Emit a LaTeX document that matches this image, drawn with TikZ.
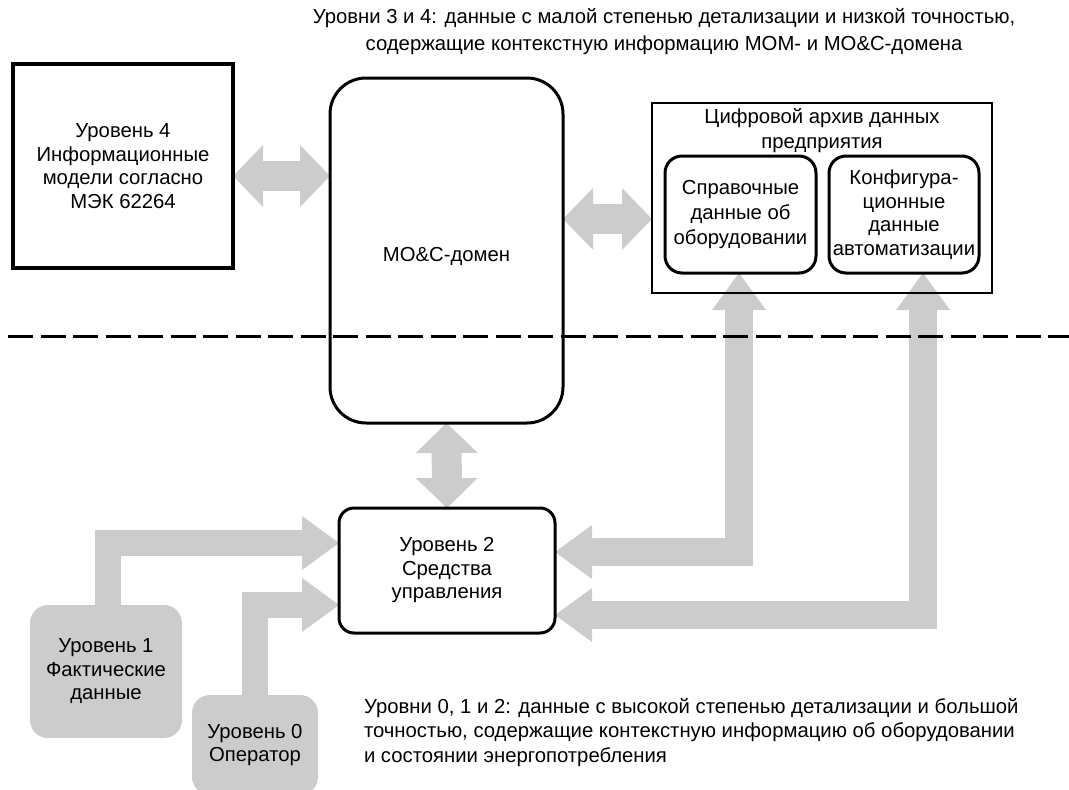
\documentclass[tikz,border=0pt]{standalone}
\usepackage{fontspec}
\setmainfont{Liberation Sans}
\usetikzlibrary{arrows.meta}
\pgfdeclarelayer{background}
\pgfsetlayers{background,main}
\definecolor{flowgray}{RGB}{204,204,204}
\newcommand{\diagfont}{\fontsize{20.3}{23.5}\selectfont}
\begin{document}
\begin{tikzpicture}[x=1pt,y=-1pt,
  every node/.style={font=\diagfont, align=center, inner sep=0pt, outer sep=0pt},
  sqbox/.style={draw=black, line width=3pt},
  rbox/.style={draw=black, line width=3pt, rounded corners=#1},
  greybox/.style={fill=flowgray, rounded corners=18pt},
  flow/.style={draw=flowgray, line width=#1, line join=miter},
  bigtips/.style={>={Triangle[width=62pt,length=30pt,line width=0pt]}},
  intip/.style={>={Triangle[width=54pt,length=37pt,line width=0pt]}},
  dashline/.style={draw=black, line width=3pt, dash pattern=on 25pt off 7.5pt}
]
\useasboundingbox (0,0) rectangle (1069,790);
\clip (0,0) rectangle (1069,790);

% texts
\node[font=\fontsize{20.3}{27}\selectfont] (toptext) at (664,31.5)
  {Уровни 3 и 4: данные с малой степенью детализации и низкой точностью,\\содержащие контекстную информацию МОМ- и МО\&С-домена};
\node[anchor=west, align=left, font=\fontsize{20.3}{24.5}\selectfont] (bottomtext) at (364,732.5)
  {Уровни 0, 1 и 2: данные с высокой степенью детализации и большой\\точностью, содержащие контекстную информацию об оборудовании\\и состоянии энергопотребления};

% boxes
\node[sqbox, line width=3.4pt, minimum width=220pt, minimum height=204pt] (lvl4) at (123,166)
  {Уровень 4\\Информационные\\модели согласно\\МЭК 62264};
\node[rbox=36pt, minimum width=233pt, minimum height=345pt] (moc) at (446.5,250.5) {};
\node (moctext) at (446.5,256) {МО\&С-домен};
\node[sqbox, line width=2.6pt, minimum width=340pt, minimum height=190pt] (archive) at (822,198) {};
\node[font=\fontsize{20.3}{25}\selectfont] (archtitle) at (822,130.5) {Цифровой архив данных\\предприятия};
\node[rbox=17pt, minimum width=151pt, minimum height=117pt, font=\fontsize{20.3}{25}\selectfont] (inner1) at (740.5,214.5)
  {Справочные\\данные об\\оборудовании};
\node[rbox=17pt, minimum width=150pt, minimum height=117pt] (inner2) at (904,214.5)
  {Конфигура-\\ционные\\данные\\автоматизации};
\node[rbox=15pt, minimum width=216pt, minimum height=125pt] (l2) at (447,570.5)
  {Уровень 2\\Средства\\управления};
\node[greybox, minimum width=152pt, minimum height=133pt] (l1) at (106,671.5)
  {Уровень 1\\Фактические\\данные};
\node[greybox, minimum width=126pt, minimum height=100pt] (l0) at (255,745)
  {Уровень 0\\Оператор};

% helper coordinates
\coordinate (ya) at (0,176);
\coordinate (yb) at (0,219);
\coordinate (y1) at (0,543);
\coordinate (y0) at (0,605);
\coordinate (r1) at (739,552);
\coordinate (r2) at (923,615);
\coordinate (dashL) at (8,336);
\coordinate (dashR) at (1069,336);

\begin{pgfonlayer}{background}
\draw[flow=30pt, bigtips, <->] (lvl4.east |- ya) -- (moc.west |- ya);
\draw[flow=30pt, bigtips, <->] (moc.east |- yb) -- (archive.west |- yb);
\draw[flow=30pt, bigtips, <->] (moc.south) -- (l2.north);
\draw[flow=26pt, intip, ->] (l1.north) ++(2,0) |- (l2.west |- y1);
\draw[flow=26pt, intip, ->] (l0.north) |- (l2.west |- y0);
\draw[flow=28pt, intip, <->] (l2.east |- r1) -| (inner1.south -| r1);
\draw[flow=28pt, intip, <->] (l2.east |- r2) -| (inner2.south -| r2);
\end{pgfonlayer}

\draw[dashline] (dashL) -- (dashR);
\end{tikzpicture}
\end{document}
